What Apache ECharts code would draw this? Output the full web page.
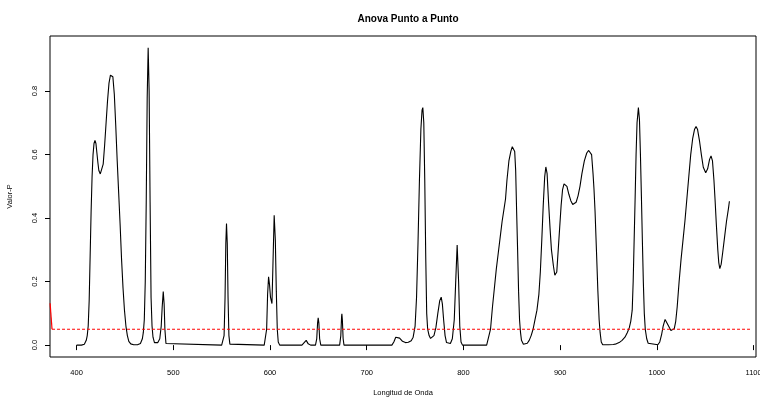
<!DOCTYPE html>
<html>
<head>
<meta charset="utf-8">
<script src="https://cdn.jsdelivr.net/npm/echarts@6/dist/echarts.min.js"></script>
<style>html,body{margin:0;padding:0;background:#fff}#chart{width:760px;height:398px}</style>
</head>
<body>
<div id="chart"></div>
<script>
// Wavelength (x) and p-value (y)
const wavelength = [400,405,408,410,411,412,413,414,415,416,417,418,419,420,421,422,423,424.5,426,427.5,429,430.5,432,433.5,435,436.2,437.5,439,440.5,442,443.5,445,446.5,448,449.5,451,452.5,454,456,459,463,466,468,469,470,471,472,473,474,475,476,477,478,479,480.5,482,484,486,487.5,488.5,489.6,490.5,491.3,492.4,494,550,551.5,552.5,553.5,554.3,555,555.8,556.6,557.5,558.5,560,594,595.5,596.5,597.5,598.5,599.5,600.5,602,603,604.3,605.5,606.5,607.5,608.5,610,633,635,637.4,639.5,642,647,648.3,649.2,649.8,650.5,651.3,652.5,672,673.2,674,674.3,674.8,675.6,676.5,726,728,730,731.8,734,737,740,743,746,748,750,751.5,753,754.5,756,757.2,758,759,760,761,762,763,764.5,766,767.5,769.5,771.5,773.5,775.5,777,778.2,779.5,781,782.5,784.5,786.5,788.5,790.5,792,793.5,795,796.2,797.5,799,824,826,828,830,832,834,836,838,840,842,843.5,845,847,849,850.5,851.7,853,854,855,856,857,858,859,860,862,864,866,868,870,872,874,876,878,879.5,881,882.5,884,885.2,886.5,888,889.5,891,893,894.5,895.5,896.5,898,899.5,901,902.5,904,905.4,907,909,911,913,914.7,916.5,918.5,920.5,922.5,925,927.5,929.5,930.9,932.5,934,935,936.1,937.5,939,940.3,941.3,942.5,944,950,955,958,961,964,967,969.5,971.5,973,974.5,975.5,976.5,977.5,978.5,979.5,980.9,982,983,984,985,986,987,988,989.5,991,993,1001,1003,1005,1006.5,1008.5,1010.5,1012.5,1014.5,1016.4,1018,1019.5,1021,1023,1025,1027,1029,1031,1033,1035,1037,1039,1040.5,1042,1044,1046,1048,1050.5,1052.5,1054.5,1056,1057.5,1059,1060.2,1061.5,1063,1064,1065.1,1066.5,1068,1070,1072,1074,1075];
const pValue = [0,0,0.003,0.015,0.03,0.06,0.14,0.28,0.42,0.53,0.6,0.635,0.645,0.635,0.605,0.575,0.55,0.539,0.545,0.57,0.63,0.7,0.77,0.825,0.85,0.856,0.845,0.79,0.69,0.58,0.48,0.38,0.27,0.18,0.11,0.06,0.03,0.012,0.004,0.001,0.001,0.005,0.02,0.04,0.08,0.2,0.45,0.78,0.936,0.8,0.45,0.15,0.06,0.025,0.008,0.004,0.008,0.02,0.06,0.12,0.169,0.13,0.05,0.005,0,0,0.005,0.03,0.15,0.32,0.383,0.32,0.15,0.03,0.003,0,0,0.005,0.05,0.16,0.215,0.19,0.15,0.131,0.25,0.409,0.33,0.17,0.05,0.01,0,0,0.004,0.015,0.004,0,0,0.02,0.07,0.086,0.07,0.02,0,0,0.03,0.09,0.099,0.08,0.02,0,0,0.01,0.025,0.031,0.022,0.012,0.008,0.009,0.014,0.025,0.06,0.15,0.32,0.52,0.68,0.74,0.748,0.7,0.52,0.28,0.1,0.05,0.03,0.021,0.02,0.03,0.055,0.1,0.14,0.151,0.13,0.08,0.03,0.008,0.002,0.005,0.02,0.08,0.2,0.315,0.2,0.06,0.01,0,0,0.005,0.05,0.12,0.18,0.24,0.29,0.34,0.39,0.43,0.46,0.52,0.58,0.61,0.625,0.627,0.61,0.55,0.42,0.3,0.17,0.08,0.04,0.015,0.003,0.002,0.006,0.015,0.03,0.05,0.08,0.11,0.16,0.23,0.33,0.44,0.53,0.561,0.54,0.45,0.37,0.3,0.25,0.22,0.217,0.23,0.3,0.37,0.44,0.49,0.508,0.512,0.5,0.475,0.455,0.443,0.441,0.45,0.47,0.5,0.54,0.58,0.605,0.613,0.614,0.6,0.54,0.49,0.42,0.3,0.17,0.08,0.04,0.01,0.001,0.001,0.002,0.004,0.008,0.015,0.025,0.04,0.055,0.075,0.11,0.2,0.33,0.46,0.6,0.7,0.748,0.71,0.6,0.47,0.33,0.2,0.1,0.05,0.02,0.006,0.001,0.001,0.01,0.035,0.06,0.081,0.075,0.058,0.046,0.043,0.052,0.075,0.12,0.2,0.27,0.33,0.39,0.46,0.53,0.6,0.65,0.68,0.688,0.68,0.645,0.6,0.56,0.543,0.555,0.585,0.596,0.58,0.52,0.456,0.38,0.3,0.26,0.241,0.255,0.29,0.34,0.39,0.43,0.453];
// Red threshold line
const thresholdX = [374.6, 1097];
const thresholdY = [0.05, 0.05];
const leadX = [372.6, 374.6];
const leadY = [0.132, 0.05];
const xTicks = [400,500,600,700,800,900,1000,1100];
const yTicks = [0,0.2,0.4,0.6,0.8];

const zip = (a,b) => a.map((v,i)=>[v,b[i]]);
const font = 'Liberation Sans, Arial, Helvetica, sans-serif';
const chart = echarts.init(document.getElementById('chart'), null, {renderer:'canvas'});
chart.setOption({
  animation:false,
  backgroundColor:'#fff',
  title:{text:'Anova Punto a Punto', left:403, top:9, textAlign:'center',
    textStyle:{fontFamily:font, fontSize:10, fontWeight:'bold', color:'#000'}},
  grid:{left:50, right:4, top:36, bottom:41, show:true, borderColor:'#000', borderWidth:1,
    containLabel:false, outerBoundsMode:'none'},
  xAxis:{type:'value', min:372.5, max:1102.5,
    name:'Longitud de Onda', nameLocation:'middle', nameGap:32,
    nameTextStyle:{fontFamily:font, fontSize:7.5, color:'#000'},
    axisLine:{show:false},
    axisTick:{show:true, inside:false, length:5, lineStyle:{color:'#000'}, customValues:xTicks},
    axisLabel:{fontFamily:font, fontSize:7.5, color:'#000', margin:12, customValues:xTicks,
      formatter:v=>String(v)},
    splitLine:{show:false}},
  yAxis:{type:'value', min:-0.0374, max:0.9734,
    name:'Valor-P', nameLocation:'middle', nameGap:36, nameRotate:90,
    nameTextStyle:{fontFamily:font, fontSize:7.5, color:'#000'},
    axisLine:{show:false},
    axisTick:{show:true, inside:false, length:5, lineStyle:{color:'#000'}, customValues:yTicks},
    axisLabel:{fontFamily:font, fontSize:7.5, color:'#000', margin:11, rotate:90,
      customValues:yTicks, formatter:v=>v.toFixed(1)},
    splitLine:{show:false}},
  series:[
    {type:'line', data:zip(wavelength,pValue), showSymbol:false, smooth:false,
      lineStyle:{color:'#000', width:1.1}, itemStyle:{color:'#000'}},
    {type:'line', data:zip(thresholdX,thresholdY), showSymbol:false,
      lineStyle:{color:'#ff0000', width:1.2, type:[3,2]}, itemStyle:{color:'#ff0000'}},
    {type:'line', data:zip(leadX,leadY), showSymbol:false,
      lineStyle:{color:'#ff0000', width:1.2}, itemStyle:{color:'#ff0000'}}
  ]
});
</script>
</body>
</html>
